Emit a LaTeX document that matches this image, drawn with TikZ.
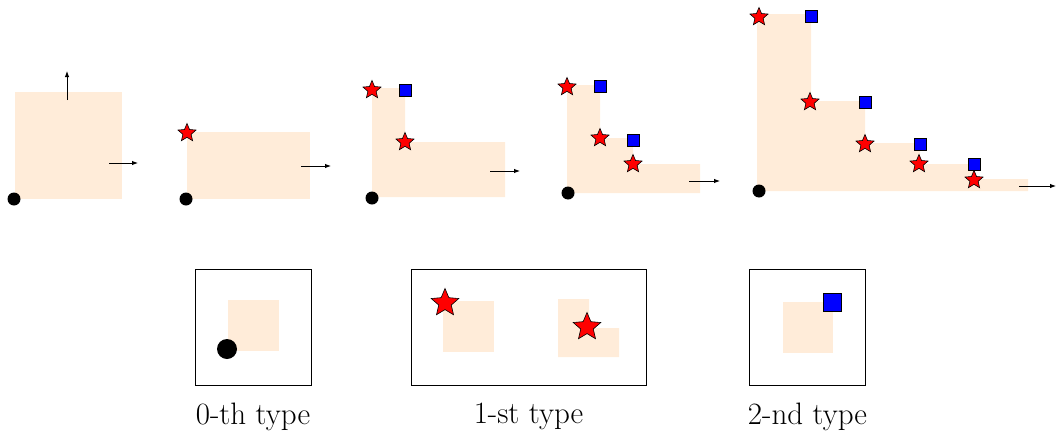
\documentclass[tikz,border=0pt]{standalone}
\usetikzlibrary{shapes.geometric,positioning,arrows.meta}

\tikzset{
    cell/.style={fill=orange!15},
    origin/.style={circle,fill=black,inner sep=0,minimum size=13},
    bigorigin/.style={origin,minimum size=20},
    redstar/.style={star,star point ratio=2.2,draw,fill=red,inner sep=0,minimum size=19,line width=0.6},
    bigstar/.style={redstar,minimum size=29},
    bluesq/.style={rectangle,draw,fill=blue,inner sep=0,minimum size=12,line width=0.6},
    bigsq/.style={bluesq,minimum size=18},
    typebox/.style={rectangle,draw,line width=1,inner sep=0,minimum size=116},
    typelabel/.style={inner sep=0,font=\fontsize{31}{36}\selectfont},
    move/.style={-{Latex[length=6,width=4.5]},line width=0.9}
    }

\begin{document}
\begin{tikzpicture}[x=1pt,y=-1pt]
    \useasboundingbox (0,0) rectangle (1057,434);
                % Step 0
                \fill[cell] (15,92) rectangle (122,199);
                \node(o1)[origin] at (14,199){};
                \coordinate (u1a) at (67,100); \coordinate (u1b) at (67,71);
                \coordinate (r1a) at (109,163); \coordinate (r1b) at (138,163);
                \draw[move] (u1a) -- (u1b);
                \draw[move] (r1a) -- (r1b);
                % Step 1
                \fill[cell] (187,132) rectangle (310,199);
                \node(o2)[origin] at (186,199){};
                \node(s21)[redstar] at (187,133){};
                \coordinate (r2a) at (301,166); \coordinate (r2b) at (331,166);
                \draw[move] (r2a) -- (r2b);
                % Step 2
                \fill[cell] (372,88) -- (405,88) -- (405,142) -- (505,142) -- (505,197) -- (372,197) -- cycle;
                \node(o3)[origin] at (372,198){};
                \node(s31)[redstar] at (372,90){};
                \node(s32)[redstar] at (405,142){};
                \node(q31)[bluesq] at (405,90){};
                \coordinate (r3a) at (490,171); \coordinate (r3b) at (520,171);
                \draw[move] (r3a) -- (r3b);
                % Step 3
                \fill[cell] (567,85) -- (600,85) -- (600,138) -- (633,138) -- (633,164) -- (700,164) -- (700,193) -- (567,193) -- cycle;
                \node(o4)[origin] at (568,193){};
                \node(s41)[redstar] at (567,87){};
                \node(s42)[redstar] at (600,138){};
                \node(s43)[redstar] at (633,164){};
                \node(q41)[bluesq] at (600,86){};
                \node(q42)[bluesq] at (633,140){};
                \coordinate (r4a) at (689,181); \coordinate (r4b) at (720,181);
                \draw[move] (r4a) -- (r4b);
                % Step 4
                \fill[cell] (757,14) -- (811,14) -- (811,101) -- (865,101) -- (865,143) -- (920,143) -- (920,164) -- (975,164) -- (975,179) -- (1028,179) -- (1028,191) -- (757,191) -- cycle;
                \node(o5)[origin] at (759,191){};
                \node(s51)[redstar] at (759,17){};
                \node(s52)[redstar] at (810,102){};
                \node(s53)[redstar] at (865,144){};
                \node(s54)[redstar] at (919,164){};
                \node(s55)[redstar] at (974,180){};
                \node(q51)[bluesq] at (811,16){};
                \node(q52)[bluesq] at (865,102){};
                \node(q53)[bluesq] at (920,144){};
                \node(q54)[bluesq] at (974,164){};
                \coordinate (r5a) at (1019,186); \coordinate (r5b) at (1056,186);
                \draw[move] (r5a) -- (r5b);
                % The types
                \node(box0)[typebox] at (253,327){};
                \fill[cell] (228,300) rectangle (279,351);
                \node(o0)[bigorigin] at (227,349){};
                \node(t0)[typelabel, below=17pt of box0]{0-th type};

                \node(box1)[typebox, minimum width=235] at (528.5,327){};
                \fill[cell] (443,301) rectangle (494,352);
                \fill[cell] (558,299) -- (589,299) -- (589,328) -- (619,328) -- (619,357) -- (558,357) -- cycle;
                \node(b11)[bigstar] at (445,303){};
                \node(b12)[bigstar] at (587,327){};
                \node(t1)[typelabel, below=17pt of box1]{1-st type};

                \node(box2)[typebox] at (807.5,327){};
                \fill[cell] (783,302) rectangle (833,353);
                \node(b21)[bigsq] at (832,302){};
                \node(t2)[typelabel, below=17pt of box2]{2-nd type};
\end{tikzpicture}
\end{document}
